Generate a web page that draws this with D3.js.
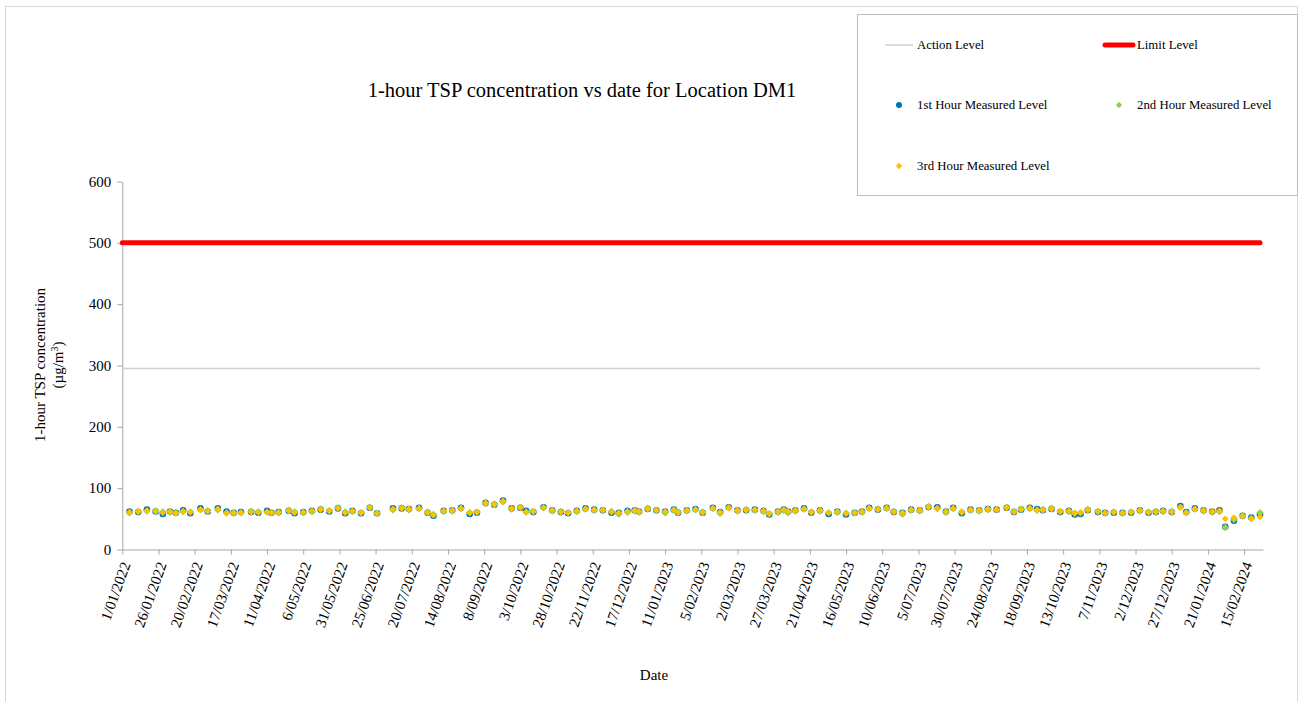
<!DOCTYPE html>
<html lang="en">
<head>
  <meta charset="UTF-8">
  <title>1-hour TSP concentration DM1</title>
  <style>
    body { margin: 0; background: #fff; }
    svg { font-family: "Liberation Serif", "Times New Roman", serif; }
    .axis path, .axis line { stroke: #a6a6a6; }
    .axis text { fill: #000; font-size: 15px; font-family: "Liberation Serif", serif; }
  </style>
</head>
<body>
  <svg width="1301" height="702"></svg>
  <script src="https://cdn.jsdelivr.net/npm/d3@7"></script>
  <script>
    // sampling dates
    var dates = [
      "2022-01-06","2022-01-12","2022-01-18","2022-01-24","2022-01-29","2022-02-03","2022-02-07","2022-02-12","2022-02-17","2022-02-24",
      "2022-03-01","2022-03-08","2022-03-14","2022-03-19","2022-03-24","2022-03-31","2022-04-05","2022-04-11","2022-04-14","2022-04-19",
      "2022-04-26","2022-04-30","2022-05-06","2022-05-12","2022-05-18","2022-05-24","2022-05-30","2022-06-04","2022-06-09","2022-06-15",
      "2022-06-21","2022-06-26","2022-07-07","2022-07-13","2022-07-18","2022-07-25","2022-07-31","2022-08-04","2022-08-11","2022-08-17",
      "2022-08-23","2022-08-29","2022-09-03","2022-09-09","2022-09-15","2022-09-21","2022-09-27","2022-10-03","2022-10-07","2022-10-12",
      "2022-10-19","2022-10-25","2022-10-31","2022-11-05","2022-11-11","2022-11-17","2022-11-23","2022-11-29","2022-12-05","2022-12-10",
      "2022-12-16","2022-12-21","2022-12-24","2022-12-30","2023-01-05","2023-01-11","2023-01-17","2023-01-20","2023-01-26","2023-02-01",
      "2023-02-06","2023-02-13","2023-02-18","2023-02-24","2023-03-02","2023-03-08","2023-03-14","2023-03-20","2023-03-24","2023-03-30",
      "2023-04-03","2023-04-06","2023-04-11","2023-04-17","2023-04-22","2023-04-28","2023-05-04","2023-05-10","2023-05-16","2023-05-22",
      "2023-05-27","2023-06-01","2023-06-07","2023-06-13","2023-06-18","2023-06-24","2023-06-30","2023-07-06","2023-07-12","2023-07-18",
      "2023-07-24","2023-07-29","2023-08-04","2023-08-10","2023-08-16","2023-08-22","2023-08-28","2023-09-04","2023-09-09","2023-09-14",
      "2023-09-20","2023-09-25","2023-09-29","2023-10-05","2023-10-11","2023-10-17","2023-10-21","2023-10-25","2023-10-30","2023-11-06",
      "2023-11-11","2023-11-17","2023-11-23","2023-11-29","2023-12-05","2023-12-11","2023-12-16","2023-12-21","2023-12-27","2024-01-02",
      "2024-01-06","2024-01-12","2024-01-18","2024-01-24","2024-01-29","2024-02-02","2024-02-08","2024-02-14","2024-02-20","2024-02-26"
    ];

    var hour1 = [
      62,61,65,62,58,62,60,64,59,67, 62,67,62,60,61,61,60,63,60,61,
      63,59,61,63,65,62,67,59,63,59, 68,59,67,67,66,68,60,55,63,64,
      68,58,60,76,73,80,67,68,63,61, 69,64,61,59,63,67,65,64,60,60,
      63,64,62,66,64,62,65,60,64,66, 60,68,61,69,64,64,65,63,57,62,
      65,62,64,67,60,64,58,62,57,60, 62,68,65,68,61,60,65,64,69,69,
      62,68,59,65,64,66,65,68,61,65, 68,66,64,66,61,63,57,58,64,61,
      60,60,60,60,64,60,61,63,61,71, 61,67,64,62,64,37,47,55,52,57
    ];
    var hour2 = [
      60,62,63,63,61,61,60,62,61,65, 63,65,60,59,60,62,61,61,60,60,
      64,61,60,62,66,63,68,61,62,60, 69,59,65,68,65,67,61,57,62,63,
      67,60,61,75,74,78,66,69,61,62, 68,63,62,60,62,66,64,64,62,58,
      61,63,61,67,64,60,64,61,63,65, 61,67,59,68,63,65,64,62,58,61,
      64,60,63,66,61,63,60,61,59,60, 61,67,66,67,62,58,64,63,70,67,
      61,67,61,64,63,65,65,69,62,66, 67,64,65,67,62,62,59,60,65,62,
      59,61,59,61,63,61,62,62,62,69, 60,66,63,61,62,36,49,55,51,60
    ];
    var hour3 = [
      61,62,63,62,60,62,59,62,61,65, 62,66,59,60,60,61,61,61,60,61,
      63,60,61,63,65,63,67,60,63,60, 68,59,66,67,66,67,60,56,63,64,
      67,60,61,76,73,79,67,68,61,62, 68,64,61,60,63,66,65,64,61,60,
      62,64,62,66,64,62,65,60,64,65, 60,67,61,68,64,64,65,63,59,62,
      65,62,64,66,61,64,60,62,59,60, 62,67,65,68,61,60,65,64,69,67,
      62,67,61,65,64,66,65,68,61,65, 67,65,64,66,62,63,59,60,64,62,
      60,61,60,61,64,61,61,63,61,69, 60,66,64,62,63,50,52,54,50,53
    ];

    var actionLevel = 295;
    var limitLevel = 500;

    var xTickLabels = [
      "1/01/2022","26/01/2022","20/02/2022","17/03/2022","11/04/2022","6/05/2022","31/05/2022","25/06/2022",
      "20/07/2022","14/08/2022","8/09/2022","3/10/2022","28/10/2022","22/11/2022","17/12/2022","11/01/2023",
      "5/02/2023","2/03/2023","27/03/2023","21/04/2023","16/05/2023","10/06/2023","5/07/2023","30/07/2023",
      "24/08/2023","18/09/2023","13/10/2023","7/11/2023","2/12/2023","27/12/2023","21/01/2024","15/02/2024"
    ];
    var yTicks = [0, 100, 200, 300, 400, 500, 600];

    var parseIso = d3.timeParse("%Y-%m-%d"),
      parseDmy = d3.timeParse("%d/%m/%Y"),
      fmtDmy = d3.timeFormat("%-d/%m/%Y");

    var rows = dates.map(function(d, i) {
      return {date: parseIso(d), h1: hour1[i], h2: hour2[i], h3: hour3[i]};
    });
    var tickDates = xTickLabels.map(parseDmy);

    var svg = d3.select("svg");

    // outer frame
    svg.append("rect")
      .attr("x", 5.5).attr("y", 6.5)
      .attr("width", 1292).attr("height", 700)
      .attr("fill", "none").attr("stroke", "#d9d9d9");

    var x = d3.scaleTime()
      .domain([parseIso("2022-01-01"), parseIso("2024-02-28")])
      .range([122.3, 1262.9]);
    var y = d3.scaleLinear().domain([0, 600]).range([549.5, 181.5]);

    // axes
    svg.append("g")
      .attr("class", "axis axis--y")
      .attr("transform", "translate(122.3,0)")
      .call(d3.axisLeft(y).tickValues(yTicks).tickSize(5).tickPadding(6).tickSizeOuter(0));

    var gx = svg.append("g")
      .attr("class", "axis axis--x")
      .attr("transform", "translate(0,549.5)")
      .call(d3.axisBottom(x).tickValues(tickDates).tickFormat(fmtDmy).tickSize(5).tickSizeOuter(0));
    gx.selectAll("text")
      .attr("y", 0).attr("dy", "0.35em")
      .attr("text-anchor", "end")
      .attr("transform", "translate(3,13) rotate(-70)");

    // reference lines
    var lineStart = x.domain()[0], lineEnd = rows[rows.length - 1].date;
    svg.append("line")
      .attr("x1", x(lineStart)).attr("x2", x(lineEnd))
      .attr("y1", y(actionLevel)).attr("y2", y(actionLevel))
      .attr("stroke", "#d0d0d0").attr("stroke-width", 1.5);
    svg.append("line")
      .attr("x1", x(lineStart)).attr("x2", x(lineEnd))
      .attr("y1", y(limitLevel)).attr("y2", y(limitLevel))
      .attr("stroke", "#ff0000").attr("stroke-width", 5).attr("stroke-linecap", "round");

    var diamond = function(s) {
      return "M0," + (-s) + "L" + s + ",0L0," + s + "L" + (-s) + ",0Z";
    };

    // markers
    svg.append("g").selectAll("circle")
      .data(rows).enter().append("circle")
      .attr("cx", function(d) { return x(d.date); })
      .attr("cy", function(d) { return y(d.h1); })
      .attr("r", 3.3)
      .attr("fill", "#0070c0");
    svg.append("g").selectAll("path")
      .data(rows).enter().append("path")
      .attr("transform", function(d) { return "translate(" + x(d.date) + "," + y(d.h2) + ")"; })
      .attr("d", diamond(3.8))
      .attr("fill", "#92d050");
    svg.append("g").selectAll("path")
      .data(rows).enter().append("path")
      .attr("transform", function(d) { return "translate(" + x(d.date) + "," + y(d.h3) + ")"; })
      .attr("d", diamond(3.4))
      .attr("fill", "#ffc000");

    // titles
    svg.append("text")
      .attr("x", 582).attr("y", 97)
      .attr("text-anchor", "middle")
      .style("font-size", "20.5px")
      .text("1-hour TSP concentration vs date for Location DM1");

    svg.append("text")
      .attr("x", 654).attr("y", 680)
      .attr("text-anchor", "middle")
      .style("font-size", "15px")
      .text("Date");

    var yt = svg.append("text")
      .attr("transform", "translate(45,365) rotate(-90)")
      .attr("text-anchor", "middle")
      .style("font-size", "15px");
    yt.append("tspan").attr("x", 0).attr("y", 0).text("1-hour TSP concentration");
    var t2 = yt.append("tspan").attr("x", 0).attr("y", 18).text("(µg/m");
    t2.append("tspan").attr("dy", -5).style("font-size", "10px").text("3");
    t2.append("tspan").attr("dy", 5).text(")");

    // legend
    var lg = svg.append("g");
    lg.append("rect")
      .attr("x", 857.5).attr("y", 14.5)
      .attr("width", 440).attr("height", 181)
      .attr("fill", "#fff").attr("stroke", "#bfbfbf");
    lg.append("line").attr("x1", 885).attr("x2", 913).attr("y1", 45).attr("y2", 45)
      .attr("stroke", "#d0d0d0").attr("stroke-width", 1.5);
    lg.append("line").attr("x1", 1105).attr("x2", 1133).attr("y1", 45).attr("y2", 45)
      .attr("stroke", "#ff0000").attr("stroke-width", 5).attr("stroke-linecap", "round");
    lg.append("circle").attr("cx", 899).attr("cy", 105).attr("r", 3).attr("fill", "#0070c0");
    lg.append("path").attr("transform", "translate(1119,105)").attr("d", diamond(3.2)).attr("fill", "#92d050");
    lg.append("path").attr("transform", "translate(899,166)").attr("d", diamond(3.2)).attr("fill", "#ffc000");

    var legendItems = [
      {label: "Action Level", x: 917, y: 45},
      {label: "Limit Level", x: 1137, y: 45},
      {label: "1st Hour Measured Level", x: 917, y: 105},
      {label: "2nd Hour Measured Level", x: 1137, y: 105},
      {label: "3rd Hour Measured Level", x: 917, y: 166}
    ];
    lg.selectAll(".lgtext")
      .data(legendItems).enter().append("text")
      .attr("class", "lgtext")
      .attr("x", function(d) { return d.x; })
      .attr("y", function(d) { return d.y; })
      .attr("dy", "0.35em")
      .style("font-size", "12.8px")
      .text(function(d) { return d.label; });
  </script>
</body>
</html>
